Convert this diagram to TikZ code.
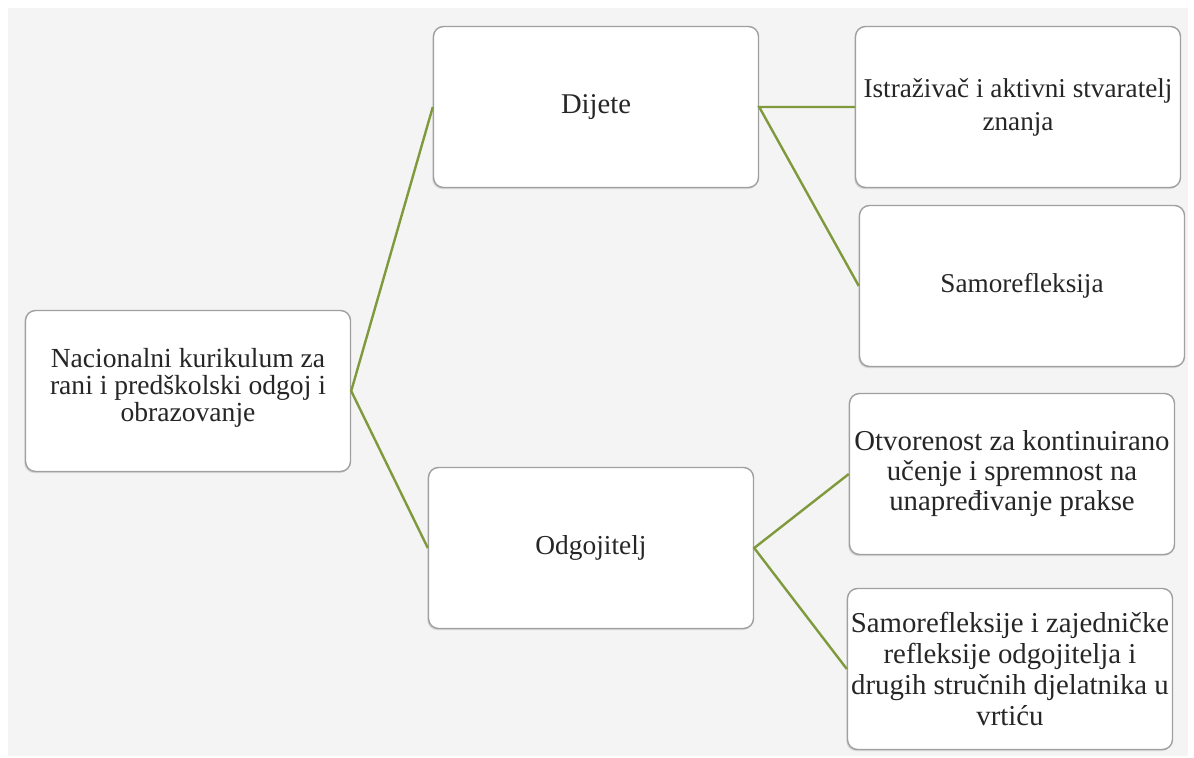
\documentclass[tikz,border=0pt]{standalone}
\usepackage{fontspec}
\setmainfont{Liberation Serif}
\usetikzlibrary{shadows}
\definecolor{podloga}{HTML}{F4F4F4}
\definecolor{rub}{HTML}{A0A0A0}
\definecolor{maslina}{HTML}{7F9A3C}
\definecolor{tekst}{HTML}{262626}
\begin{document}
\begin{tikzpicture}[x=0.5pt, y=-0.5pt,
	okvir/.style={draw=rub, line width=0.7pt, fill=white, rounded corners=5pt,
		minimum width=162.5pt, minimum height=80.5pt, inner xsep=0pt, align=center, text=tekst,
		font=\fontsize{14}{15.5}\selectfont,
		drop shadow={shadow xshift=-0.6pt, shadow yshift=-0.8pt, opacity=0.25}},
	veza/.style={draw=maslina, line width=1.2pt}]
	% 1. pozadina
	\useasboundingbox (0,0) rectangle (1194,758);
	\fill[podloga] (8,8) rectangle (1188,756);
	
	% 2. kurikulum
	\node[okvir, font=\fontsize{13.8}{13.6}\selectfont, text depth=6pt] (kurikulum) at (188,391)
		{Nacionalni kurikulum za\\rani i predškolski odgoj i\\obrazovanje};
	
	% 3. dijete i odgojitelj
	\node[okvir, font=\fontsize{14.3}{15.5}\selectfont] (dijete) at (596,107) {Dijete};
	\node[okvir, font=\fontsize{13.7}{15.5}\selectfont] (odgojitelj) at (591,548) {Odgojitelj};
	
	% 4. uloge
	\node[okvir, font=\fontsize{13.6}{16.5}\selectfont] (istrazivac) at (1018,107)
		{Istraživač i aktivni stvaratelj\\znanja};
	\node[okvir, font=\fontsize{13.6}{15.5}\selectfont] (samorefleksija) at (1022,286) {Samorefleksija};
	\node[okvir, font=\fontsize{14.4}{15}\selectfont] (otvorenost) at (1012,474)
		{Otvorenost za kontinuirano\\učenje i spremnost na\\unapređivanje prakse};
	\node[okvir, font=\fontsize{14.4}{15.5}\selectfont] (refleksije) at (1010,669)
		{Samorefleksije i zajedničke\\refleksije odgojitelja i\\drugih stručnih djelatnika u\\vrtiću};
	
	% 5. veze
	\draw[veza] (dijete.west) -- (kurikulum.east) -- (odgojitelj.west);
	\draw[veza] (istrazivac.west) -- (dijete.east) -- (samorefleksija.west);
	\draw[veza] (otvorenost.west) -- (odgojitelj.east) -- (refleksije.west);
\end{tikzpicture}
\end{document}
